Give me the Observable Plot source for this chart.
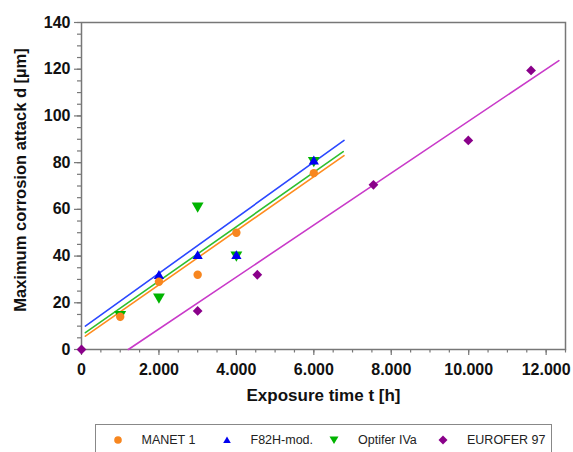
<!DOCTYPE html>
<html>
<head>
<meta charset="utf-8">
<script src="https://cdn.jsdelivr.net/npm/d3@7"></script>
<script src="https://cdn.jsdelivr.net/npm/@observablehq/plot@0.6"></script>
<style>
  html, body { margin: 0; padding: 0; background: #fff; overflow: hidden; }
  body { width: 573px; height: 452px; position: relative; font-family: "Liberation Sans", Arial, sans-serif; }
  #chart { position: absolute; left: 0; top: 0; }
  #legend { position: absolute; left: 95px; top: 424px; width: 457px; height: 40px; border: 1px solid #888; box-sizing: border-box; font-size: 12.5px; color: #222; }
  .item { position: absolute; top: 8px; display: flex; align-items: center; }
  .item svg { margin-right: 18px; }
</style>
</head>
<body>
<div id="chart"></div>
<div id="legend"></div>
<script>
// ---- data ----
const seriesNames = ["MANET 1", "F82H-mod.", "Optifer IVa", "EUROFER 97"];

const manetTime = [1000, 2000, 3000, 4000, 6000];
const manetDepth = [14, 29, 32, 50, 75.5];

const f82hTime = [2000, 3000, 4000, 6000];
const f82hDepth = [31.5, 40, 40, 80.5];

const optiferTime = [1000, 2000, 3000, 4000, 6000];
const optiferDepth = [15, 22.5, 61.5, 40.5, 81];

const euroferTime = [0, 3000, 4540, 7540, 9990, 11610];
const euroferDepth = [0, 16.5, 32, 70.5, 89.5, 119.5];

// fitted lines as drawn (endpoints)
const manetFitTime = [100, 6780];
const manetFitDepth = [5.7, 83];
const f82hFitTime = [100, 6780];
const f82hFitDepth = [10, 89.5];
const optiferFitTime = [100, 6760];
const optiferFitDepth = [7.2, 84.7];
const euroferFitTime = [1210, 12330];
const euroferFitDepth = [0, 123.7];

const xTicks = [0, 2000, 4000, 6000, 8000, 10000, 12000];
const yTicks = [0, 20, 40, 60, 80, 100, 120, 140];
const xTitle = "Exposure time t [h]";
const yTitle = "Maximum corrosion attack d [µm]";

// ---- build ----
const pts = (t, d) => t.map((v, i) => ({t: v, d: d[i]}));
const locale = d3.formatLocale({decimal: ",", thousands: ".", grouping: [3], currency: ["", ""]});
const fmt = locale.format(",");

const markerColor = {"MANET 1": "#f7861f", "F82H-mod.": "#0000f0", "Optifer IVa": "#00b400", "EUROFER 97": "#8a008a"};
const lineColor = {"MANET 1": "#ff8c1e", "F82H-mod.": "#2b48ff", "Optifer IVa": "#2fbf2f", "EUROFER 97": "#c93ac9"};

const axisColor = "#777";

const plot = Plot.plot({
  width: 573,
  height: 415,
  marginLeft: 81,
  marginRight: 8,
  marginTop: 22,
  marginBottom: 66,
  style: {fontFamily: "'Liberation Sans', Arial, sans-serif", background: "#fff"},
  x: {domain: [0, 12500], label: null},
  y: {domain: [0, 140], label: null},
  marks: [
    // minor ticks
    Plot.axisX({ticks: d3.range(0, 12501, 500), tickSize: 3.5, text: null, label: null, stroke: axisColor, strokeWidth: 1.2}),
    Plot.axisY({ticks: d3.range(0, 141, 5), tickSize: 4, text: null, label: null, stroke: axisColor, strokeWidth: 1.2}),
    // major ticks + labels
    Plot.axisX({ticks: xTicks, tickSize: 6, tickPadding: 8, tickFormat: fmt, fontSize: 16, fontWeight: "bold", fill: "#111", stroke: axisColor, strokeWidth: 1.2, label: null}),
    Plot.axisY({ticks: yTicks, tickSize: 7, tickPadding: 4, fontSize: 16, fontWeight: "bold", fill: "#111", stroke: axisColor, strokeWidth: 1.2, label: null}),
    Plot.frame({stroke: axisColor, strokeWidth: 1.5}),
    // axis titles
    Plot.text([xTitle], {frameAnchor: "bottom", dy: 51, text: d => d, fontSize: 17, fontWeight: "bold", fill: "#111"}),
    Plot.text([yTitle], {frameAnchor: "left", textAnchor: "middle", dx: -61, dy: -6, rotate: -90, text: d => d, fontSize: 16.5, fontWeight: "bold", fill: "#111"}),
    // fit lines
    Plot.line(pts(manetFitTime, manetFitDepth), {x: "t", y: "d", stroke: lineColor["MANET 1"], strokeWidth: 1.6}),
    Plot.line(pts(optiferFitTime, optiferFitDepth), {x: "t", y: "d", stroke: lineColor["Optifer IVa"], strokeWidth: 1.6}),
    Plot.line(pts(f82hFitTime, f82hFitDepth), {x: "t", y: "d", stroke: lineColor["F82H-mod."], strokeWidth: 1.6}),
    Plot.line(pts(euroferFitTime, euroferFitDepth), {x: "t", y: "d", stroke: lineColor["EUROFER 97"], strokeWidth: 1.6}),
    // markers
    Plot.dot(pts(optiferTime, optiferDepth), {x: "t", y: "d", symbol: "triangle", rotate: 180, r: 4.4, fill: markerColor["Optifer IVa"], stroke: "none"}),
    Plot.dot(pts(f82hTime, f82hDepth), {x: "t", y: "d", symbol: "triangle", r: 3.8, fill: markerColor["F82H-mod."], stroke: "none"}),
    Plot.dot(pts(manetTime, manetDepth), {x: "t", y: "d", symbol: "circle", r: 4.2, fill: markerColor["MANET 1"], stroke: "none"}),
    Plot.dot(pts(euroferTime, euroferDepth), {x: "t", y: "d", symbol: "diamond2", r: 4.4, fill: markerColor["EUROFER 97"], stroke: "none"})
  ]
});
document.getElementById("chart").appendChild(plot);

// ---- legend ----
const legend = document.getElementById("legend");
const legendLeft = [15.5, 124.5, 232, 341];
const symbolPaths = {
  "MANET 1": '<circle cx="6" cy="6" r="3.8" />',
  "F82H-mod.": '<path d="M6,2.5 L9.8,9 L2.2,9 Z" />',
  "Optifer IVa": '<path d="M1.5,2.5 L10.5,2.5 L6,10 Z" />',
  "EUROFER 97": '<path d="M6,1.5 L10.5,6 L6,10.5 L1.5,6 Z" />'
};
seriesNames.forEach((name, i) => {
  const div = document.createElement("div");
  div.className = "item";
  div.style.left = legendLeft[i] + "px";
  div.innerHTML = `<svg width="12" height="12" fill="${markerColor[name]}">${symbolPaths[name]}</svg><span>${name}</span>`;
  legend.appendChild(div);
});
</script>
</body>
</html>
